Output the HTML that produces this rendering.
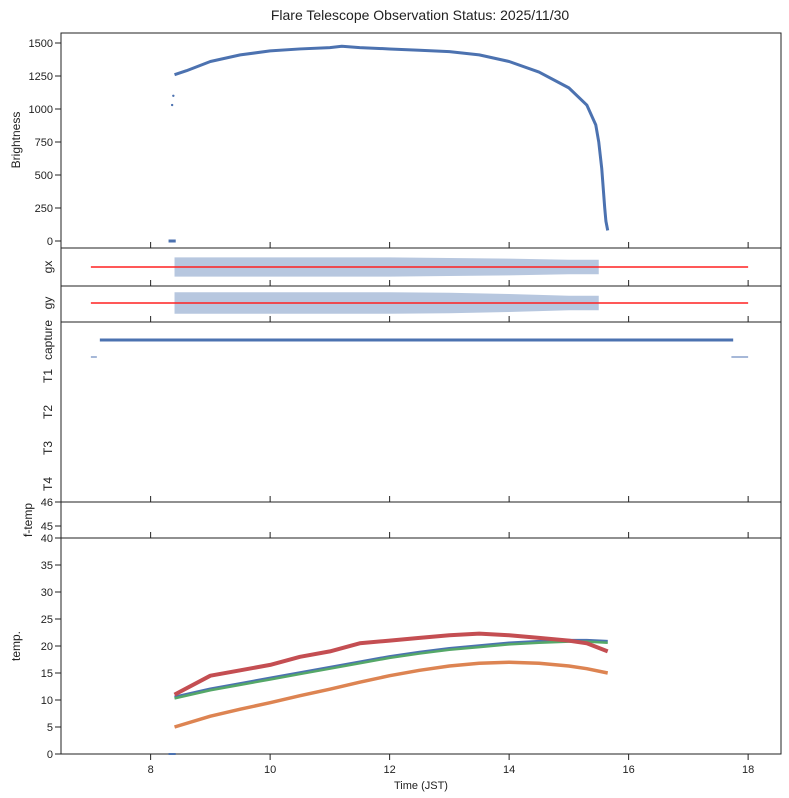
<!DOCTYPE html>
<html><head><meta charset="utf-8"><style>
body{margin:0;background:#fff;}
svg{display:block;font-family:"Liberation Sans",sans-serif;}
</style></head><body>
<svg id="c" width="789" height="798" xmlns="http://www.w3.org/2000/svg">
<text x="420" y="20" font-size="14" text-anchor="middle" fill="#222">Flare Telescope Observation Status: 2025/11/30</text>
<g id="g"></g>
</svg>
<script>
const brightT=[8.3,8.36,8.38,8.4,8.6,9,9.5,10,10.5,11,11.2,11.5,12,12.5,13,13.5,14,14.5,15,15.3,15.45,15.5,15.55,15.6,15.62,15.65];
const brightV=[0,1030,1100,1260,1290,1360,1410,1440,1455,1465,1475,1465,1455,1445,1435,1410,1360,1280,1160,1030,880,750,550,250,150,80];
const tempT=[8.4,9,9.5,10,10.5,11,11.5,12,12.5,13,13.5,14,14.5,15,15.3,15.65];
const tempBlue=[10.5,12,13,14,15,16,17,18,18.8,19.5,20,20.5,20.8,21,21,20.8];
const tempOrange=[5,7,8.3,9.5,10.8,12,13.3,14.5,15.5,16.3,16.8,17,16.8,16.3,15.8,15];
const tempRed=[11,14.5,15.5,16.5,18,19,20.5,21,21.5,22,22.3,22,21.5,21,20.5,19];
const gSpreadT=[8.4,9,10,11,12,13,14,15,15.5];
const gxSpread=[0.8,0.8,0.8,0.8,0.8,0.75,0.7,0.6,0.6];
const gySpread=[0.9,0.9,0.9,0.9,0.9,0.85,0.75,0.6,0.6];
const yTicksB=[0,250,500,750,1000,1250,1500];
const yTicksT=[0,5,10,15,20,25,30,35,40];
const xTicks=[8,10,12,14,16,18];

const NS="http://www.w3.org/2000/svg",G=document.getElementById('g');
function el(t,a,p){const e=document.createElementNS(NS,t);for(const k in a)e.setAttribute(k,a[k]);(p||G).appendChild(e);return e;}
const X=t=>61+(t-6.5)*59.75;
const YB=v=>241-v*0.132;
const YT=v=>754-v*5.4;
const panels=[[33,248,'brightness-panel'],[248,286,'gx-panel'],[286,322,'gy-panel'],[322,502,'capture-panel'],[502,538,'ftemp-panel'],[538,754,'temp-panel']];
panels.forEach(p=>{const r=el('rect',{x:61,y:p[0],width:720,height:p[1]-p[0],fill:'none',stroke:'#222','stroke-width':1});});
panels.forEach((p,i)=>{xTicks.forEach(t=>{if(i<5){el('line',{x1:X(t),x2:X(t),y1:p[1],y2:p[1]-6,stroke:'#222'});}});});
xTicks.forEach(t=>{el('line',{x1:X(t),x2:X(t),y1:754,y2:760,stroke:'#222'});const tx=el('text',{x:X(t),y:773,'font-size':11,'text-anchor':'middle',fill:'#222'});tx.textContent=t;});
const xl=el('text',{x:421,y:789,'font-size':11,'text-anchor':'middle',fill:'#222'});xl.textContent='Time (JST)';
function ytick(y,label){el('line',{x1:55,x2:61,y1:y,y2:y,stroke:'#222'});const tx=el('text',{x:53,y:y+4,'font-size':11,'text-anchor':'end',fill:'#222'});tx.textContent=label;}
yTicksB.forEach(v=>ytick(YB(v),v));
yTicksT.forEach(v=>ytick(YT(v),v));
ytick(502,46);ytick(526,45);
function ylab(x,y,s,n){const tx=el('text',{x:x,y:y,'font-size':12,'text-anchor':'middle',fill:'#222',transform:`rotate(-90 ${x} ${y})`});tx.textContent=s;}
ylab(20,140,'Brightness','brightness-label');ylab(52,267,'gx','gx-label');ylab(52,303,'gy','gy-label');
ylab(52,340,'capture','capture-label');ylab(52,376,'T1','t1-label');ylab(52,412,'T2','t2-label');ylab(52,448,'T3','t3-label');ylab(52,484,'T4','t4-label');
ylab(32,520,'f-temp','ftemp-label');ylab(20,646,'temp.','temp-label');
function poly(ts,vs,fy,color,w,name){const pts=ts.map((t,i)=>X(t)+','+fy(vs[i])).join(' ');const p=el('polyline',{points:pts,fill:'none',stroke:color,'stroke-width':w,'stroke-linejoin':'round'});return p;}
el('line',{x1:X(8.3),x2:X(8.42),y1:YB(0),y2:YB(0),stroke:'#4c72b0','stroke-width':3});
poly(brightT.slice(3),brightV.slice(3),YB,'#4c72b0',3,'brightness-series');
[1,2].forEach(i=>{const c=el('circle',{cx:X(brightT[i]),cy:YB(brightV[i]),r:1.2,fill:'#4c72b0'});});
function band(cy,sp,name){const top=gSpreadT.map((t,i)=>X(t)+','+(cy-sp[i]*12));const bot=gSpreadT.map((t,i)=>X(t)+','+(cy+sp[i]*12)).reverse();const p=el('polygon',{points:top.concat(bot).join(' '),fill:'#4c72b0','fill-opacity':0.4});}
band(267,gxSpread,'gx-scatter');band(303,gySpread,'gy-scatter');
[[267,'gx-reference-line'],[303,'gy-reference-line']].forEach(a=>{const l=el('line',{x1:X(7),x2:X(18),y1:a[0],y2:a[0],stroke:'#ff2020','stroke-width':1.5});});
const cap=el('line',{x1:X(7.15),x2:X(17.75),y1:340,y2:340,stroke:'#4c72b0','stroke-width':3});
el('line',{x1:X(7),x2:X(7.1),y1:357,y2:357,stroke:'#4c72b0','stroke-width':1});
el('line',{x1:X(17.72),x2:X(18),y1:357,y2:357,stroke:'#4c72b0','stroke-width':1});
el('line',{x1:X(8.3),x2:X(8.42),y1:YT(0),y2:YT(0),stroke:'#4c72b0','stroke-width':2});
poly(tempT,tempOrange,YT,'#dd8452',3.5,'temp-orange-series');
poly(tempT,tempBlue,YT,'#4c72b0',3.5,'temp-blue-series');
poly(tempT,tempBlue.map(v=>v-0.2),YT,'#55a868',2.5,'temp-green-series');
poly(tempT,tempRed,YT,'#c44e52',4,'temp-red-series');
</script>
</body></html>
